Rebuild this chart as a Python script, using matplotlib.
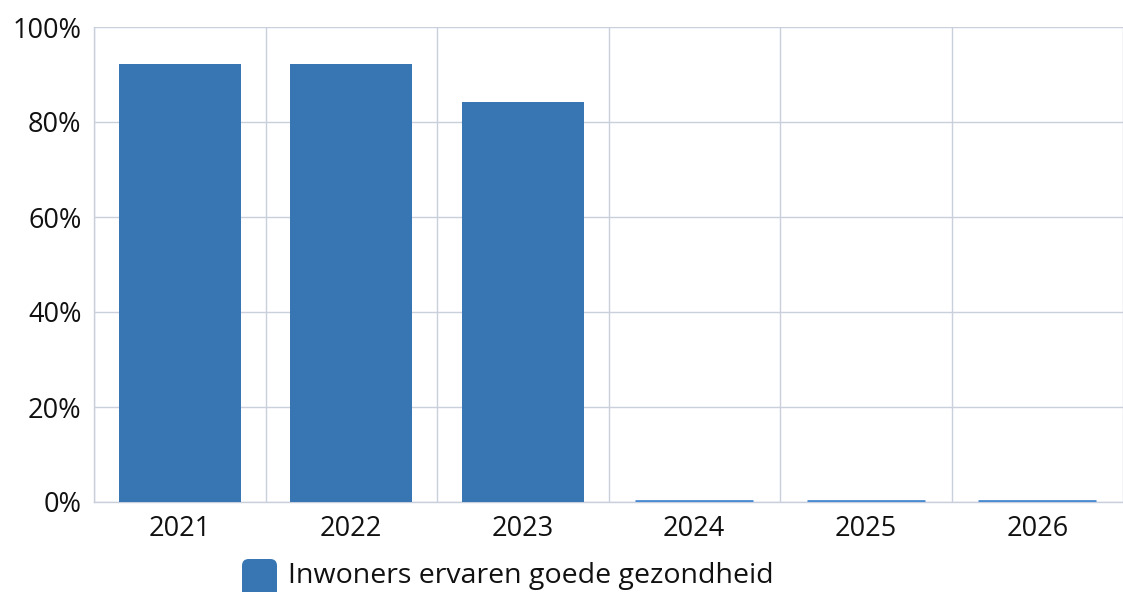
import numpy as np
import matplotlib.pyplot as plt
from matplotlib.patches import FancyBboxPatch

# Data
years = ["2021", "2022", "2023", "2024", "2025", "2026"]
values = [92.2, 92.2, 84.2, 0, 0, 0]
series_name = "Inwoners ervaren goede gezondheid"

bar_color = "#3776b3"
zero_color = "#4a8bd0"
grid_color = "#c9d0dc"

plt.rcParams['font.family'] = ['Open Sans', 'DejaVu Sans']

fig = plt.figure(figsize=(11.23, 5.92), dpi=100)
ax = fig.add_axes([94 / 1123, 90 / 592, 1029 / 1123, 475 / 592])

x = np.arange(len(years))
ax.bar(x, values, width=0.71, color=bar_color, zorder=3)

# zero values show as a thin line on the baseline
for xi, v in zip(x, values):
    if v == 0:
        ax.hlines(0.15, xi - 0.345, xi + 0.345, color=zero_color, linewidth=2, zorder=3)

ax.set_xlim(-0.5, len(years) - 0.5)
ax.set_ylim(0, 100)
ax.set_yticks(np.arange(0, 101, 20))
ax.set_yticklabels([f"{t}%" for t in range(0, 101, 20)], fontsize=19.5, color="#111111")
ax.set_xticks(x)
ax.set_xticklabels(years, fontsize=19.5, color="#111111")
ax.tick_params(which="both", length=0)
ax.tick_params(axis="y", pad=9)
ax.tick_params(axis="x", pad=9)

# grid
ax.set_xticks(np.arange(-0.5, len(years), 1), minor=True)
ax.grid(axis="y", color=grid_color, linewidth=1, zorder=0)
ax.grid(axis="x", which="minor", color=grid_color, linewidth=1, zorder=0)
ax.grid(axis="x", which="major", visible=False)
for side in ["top", "right"]:
    ax.spines[side].set_visible(False)
for side in ["left", "bottom"]:
    ax.spines[side].set_color(grid_color)
    ax.spines[side].set_linewidth(1)

# legend
patch = FancyBboxPatch((242 / 1123, -8 / 592), 35 / 1123, 41 / 592,
                       boxstyle="round,pad=0,rounding_size=0.006",
                       transform=fig.transFigure, facecolor=bar_color,
                       edgecolor="none", mutation_aspect=1123 / 592)
fig.patches.append(patch)
fig.text(288 / 1123, 16 / 592, series_name, fontsize=20.5, color="#111111", va="center")

fig.savefig("out.png", dpi=100)
